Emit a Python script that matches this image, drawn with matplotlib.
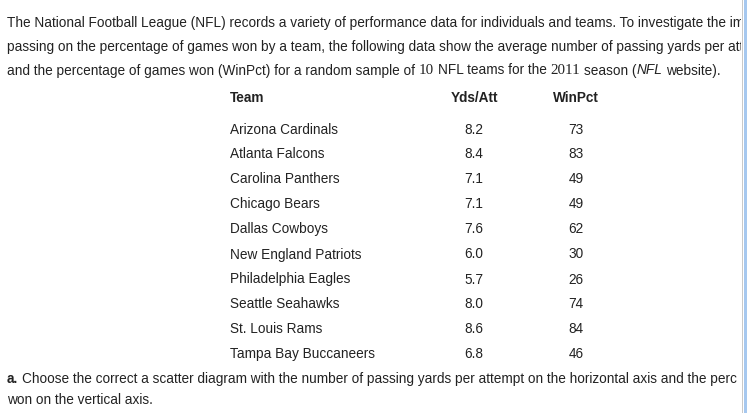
import matplotlib
matplotlib.use("Agg")
import matplotlib.pyplot as plt
from matplotlib.patches import Rectangle

# table data
teams = ["Arizona Cardinals", "Atlanta Falcons", "Carolina Panthers", "Chicago Bears",
         "Dallas Cowboys", "New England Patriots", "Philadelphia Eagles",
         "Seattle Seahawks", "St. Louis Rams", "Tampa Bay Buccaneers"]
yds_att = [8.2, 8.4, 7.1, 7.1, 7.6, 6.0, 5.7, 8.0, 8.6, 6.8]
win_pct = [73, 83, 49, 49, 62, 30, 26, 74, 84, 46]
headers = ["Team", "Yds/Att", "WinPct"]

W, H = 747, 414
INK = "#222222"
BODY = "Liberation Sans"
SERIF = "Liberation Serif"

fig = plt.figure(figsize=(W / 100, H / 100), dpi=100)
fig.patch.set_facecolor("white")
renderer = fig.canvas.get_renderer()


def px(x, y):
    return x / W, 1 - y / H


def width(s, **kw):
    t = fig.text(0, 0, s, **kw)
    w = t.get_window_extent(renderer).width
    t.remove()
    return w


# fit the body size so the first line is cut at the same place as the page
fit = "The National Football League (NFL) records a variety of performance data for individuals and teams. To investigate the i"
size = 10 * 724 / width(fit, family=BODY, fontsize=10)
space = width("a a", family=BODY, fontsize=size) - width("aa", family=BODY, fontsize=size)
body = dict(family=BODY, fontsize=size)


def run(pieces, x, y):
    # lay out pieces of text one after another on a baseline
    for s, kw in pieces:
        if s == " ":
            x += space
            continue
        t = fig.text(*px(x, y), s, va="baseline", color=INK, **kw)
        x += t.get_window_extent(renderer).width


base = 4.5  # centre of the line -> baseline

# the page cuts these lines at its right border
run([("The National Football League (NFL) records a variety of performance data for individuals and teams. To investigate the im", body)], 7, 22 + base)
run([("passing on the percentage of games won by a team, the following data show the average number of passing yards per att", body)], 7, 47 + base)
run([("and the percentage of games won (WinPct) for a random sample of", body), (" ", None),
     ("10", dict(family=SERIF, fontsize=size * 1.1)), (" ", None),
     ("NFL teams for the", body), (" ", None),
     ("2011", dict(family=SERIF, fontsize=size * 1.1)), (" ", None),
     ("season (", body), ("NFL", dict(family=BODY, fontsize=size, style="italic")), (" ", None),
     ("website).", body)], 7, 70 + base)

# table
bold = dict(family=BODY, fontsize=size, fontweight="bold")
fig.text(*px(230, 98 + base), headers[0], va="baseline", color=INK, **bold)
fig.text(*px(474, 98 + base), headers[1], va="baseline", ha="center", color=INK, **bold)
fig.text(*px(576, 98 + base), headers[2], va="baseline", ha="center", color=INK, **bold)

for i, team in enumerate(teams):
    y = 129 + 25 * i + base
    fig.text(*px(230, y), team, va="baseline", color=INK, **body)
    fig.text(*px(474, y), f"{yds_att[i]:.1f}", va="baseline", ha="center", color=INK, **body)
    fig.text(*px(576, y), f"{win_pct[i]}", va="baseline", ha="center", color=INK, **body)

run([("a.", bold), (" ", None),
     ("Choose the correct a scatter diagram with the number of passing yards per attempt on the horizontal axis and the perc", body)],
    7, 379 + base)
run([("won on the vertical axis.", body)], 7, 400 + base)

# right edge of the page frame
fig.patches.append(Rectangle((741 / W, 0), 6 / W, 1, transform=fig.transFigure,
                             facecolor="white", edgecolor="none", zorder=10))
fig.patches.append(Rectangle((742.3 / W, 0), 1 / W, 1, transform=fig.transFigure,
                             facecolor="#c9c9c9", edgecolor="none", zorder=11))
fig.patches.append(Rectangle((743.5 / W, 0), 3.5 / W, 1, transform=fig.transFigure,
                             facecolor="#a6c8ef", edgecolor="none", zorder=11))

fig.savefig("out.png", dpi=100)
